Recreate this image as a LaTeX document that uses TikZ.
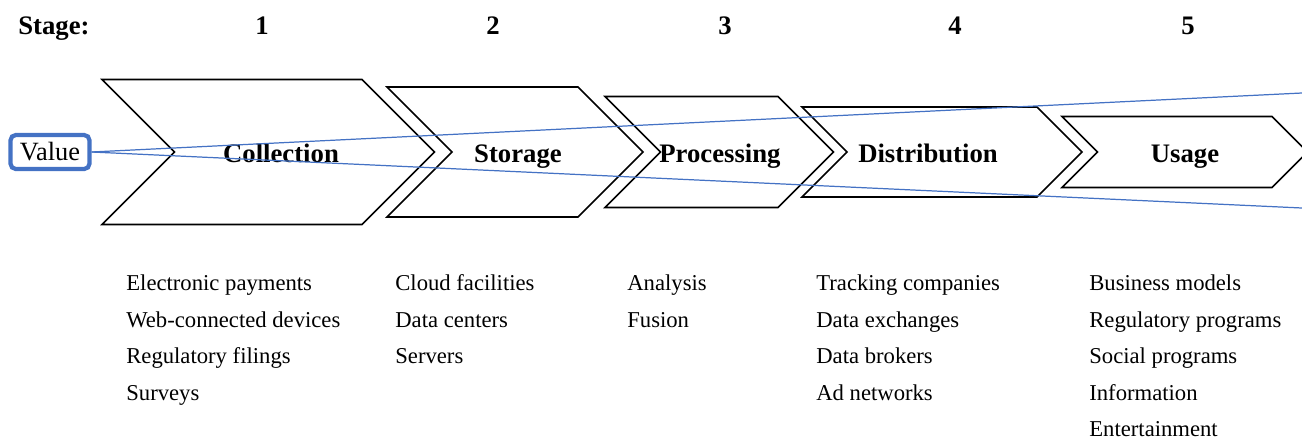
\documentclass[tikz,border=0pt]{standalone}
\usepackage{fontspec}
\setmainfont{Liberation Serif}
\usepackage{tikz}
\definecolor{valueblue}{RGB}{68,114,196}

\begin{document}
\begin{tikzpicture}[x=0.02cm, y=-0.02cm,
		stagelabel/.style={font=\bfseries\fontsize{15.2}{18}\selectfont, anchor=base, inner sep=0pt},
		listitem/.style={font=\fontsize{12.9}{15}\selectfont, anchor=base west, inner sep=0pt},
		valuebox/.style={draw=valueblue, line width=2.4pt, rounded corners=3pt, minimum width=1.58cm, minimum height=0.68cm, inner sep=0pt, font=\fontsize{15}{18}\selectfont},
		ray/.style={draw=valueblue, line width=0.7pt}]
			\useasboundingbox (0,0) rectangle (1302,440);
			% stage numbers
			\node[stagelabel] (stage) at (54,34) {Stage:};
			\foreach \x [count=\n] in {262,493,725,955,1188} {
				\node[stagelabel] (num\n) at (\x,34) {\n};
			}
			% chevrons: left edge / right edge / half height / label
			\foreach \xl/\xr/\h/\lx/\name/\txt in {102/362/72.5/281/collection/Collection, 387/578/65/518/storage/Storage, 605/778/55.5/720/processing/Processing, 802/1037/45/928/distribution/Distribution, 1062/1272/35.5/1185/usage/Usage} {
				\draw[line width=0.9pt] (\xl,152-\h) -- (\xr,152-\h) -- (\xr+\h,152) -- (\xr,152+\h) -- (\xl,152+\h) -- (\xl+\h,152) -- cycle;
				\node[stagelabel] (\name) at (\lx,162) {\txt};
			}
			% value and its widening rays
			\node[valuebox] (value) at (50,152) {Value};
			\coordinate (raytop) at (1302,93);
			\coordinate (raybot) at (1302,208);
			\draw[ray] (value.east) -- (raytop);
			\draw[ray] (value.east) -- (raybot);
			% examples under each stage
			\foreach \x/\col/\items in {126/a/{Electronic payments,Web-connected devices,Regulatory filings,Surveys}, 395/b/{Cloud facilities,Data centers,Servers}, 627/c/{Analysis,Fusion}, 816/d/{Tracking companies,Data exchanges,Data brokers,Ad networks}, 1089/e/{Business models,Regulatory programs,Social programs,Information,Entertainment}} {
				\foreach \item [count=\i] in \items {
					\node[listitem] (\col\i) at (\x,{290.5+36.5*(\i-1)}) {\item};
				}
			}
		\end{tikzpicture}
\end{document}
